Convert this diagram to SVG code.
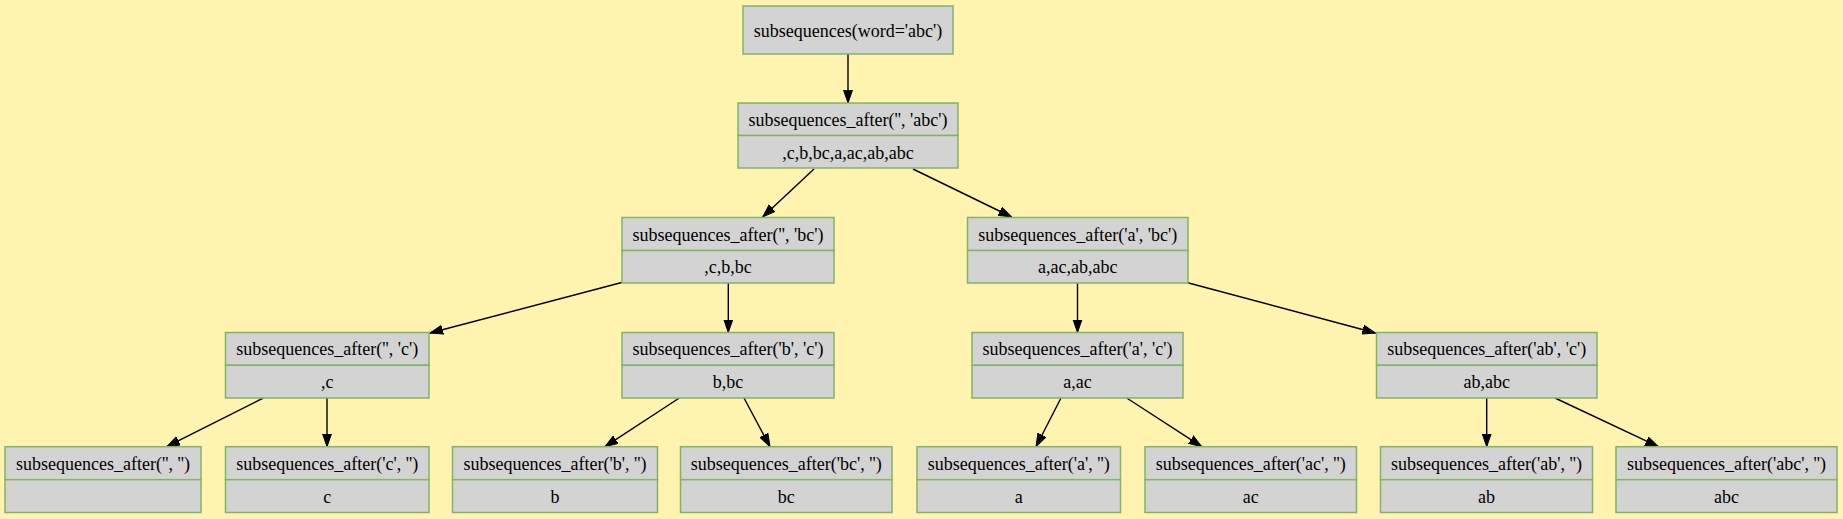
<svg xmlns="http://www.w3.org/2000/svg" width="1843" height="519" viewBox="0 0 1843 519" font-family="'Liberation Serif', 'Times New Roman', 'DejaVu Serif', serif">
<style>
.box{fill:#d3d3d3;stroke:#82b366;stroke-width:1.5}
.t{font-family:'Liberation Serif','Times New Roman','DejaVu Serif',serif;font-size:18px;fill:#000;text-anchor:middle}
.e{stroke:#000;stroke-width:1.4;fill:none;marker-end:url(#arr)}
</style>
<defs>
<marker id="arr" markerUnits="userSpaceOnUse" markerWidth="14" markerHeight="11" refX="13" refY="5" orient="auto">
<path d="M0,0.5 L13,5 L0,9.5 z" fill="#000" stroke="#000" stroke-width="1"/>
</marker>
</defs>
<rect width="1843" height="519" fill="#fff3b0"/>
<g id="connectors">
<line class="e" x1="848" y1="54" x2="848" y2="103"/>
<line class="e" x1="814" y1="169" x2="762.7" y2="217"/>
<line class="e" x1="913" y1="169" x2="1011.7" y2="217"/>
<line class="e" x1="621.7" y1="282.5" x2="430" y2="333"/>
<line class="e" x1="728.3" y1="283" x2="728.3" y2="332.5"/>
<line class="e" x1="1077.5" y1="283" x2="1077.5" y2="332.5"/>
<line class="e" x1="1187.7" y1="282.7" x2="1375.5" y2="333"/>
<line class="e" x1="263.3" y1="398" x2="166.7" y2="446.7"/>
<line class="e" x1="327" y1="398" x2="327" y2="446.7"/>
<line class="e" x1="679.3" y1="398" x2="605" y2="446.7"/>
<line class="e" x1="744" y1="398" x2="770" y2="446.7"/>
<line class="e" x1="1061" y1="398" x2="1036" y2="446.7"/>
<line class="e" x1="1126.7" y1="398" x2="1201.7" y2="446.7"/>
<line class="e" x1="1486.7" y1="398" x2="1486.7" y2="446.7"/>
<line class="e" x1="1555" y1="398" x2="1658.3" y2="446.7"/>
</g>
<g id="root">
<rect class="box" x="743" y="6" width="210" height="48"/>
<text class="t" x="848" y="36.5">subsequences(word='abc')</text>
</g>
<g id="n_abc">
<rect class="box" x="738" y="103" width="220" height="32.5"/>
<rect class="box" x="738" y="135.5" width="220" height="32.5"/>
<text class="t" x="848" y="126">subsequences_after('', 'abc')</text>
<text class="t" x="848" y="158.5">,c,b,bc,a,ac,ab,abc</text>
</g>
<g id="n_bc">
<rect class="box" x="622" y="217.5" width="212" height="33"/>
<rect class="box" x="622" y="250.5" width="212" height="32.5"/>
<text class="t" x="728" y="240.5">subsequences_after('', 'bc')</text>
<text class="t" x="728" y="273">,c,b,bc</text>
</g>
<g id="n_a_bc">
<rect class="box" x="967.5" y="217.5" width="220.5" height="33"/>
<rect class="box" x="967.5" y="250.5" width="220.5" height="32.5"/>
<text class="t" x="1077.75" y="240.5">subsequences_after('a', 'bc')</text>
<text class="t" x="1077.75" y="273">a,ac,ab,abc</text>
</g>
<g id="n_c">
<rect class="box" x="225.5" y="332.5" width="203.5" height="32.8"/>
<rect class="box" x="225.5" y="365.3" width="203.5" height="32.7"/>
<text class="t" x="327.25" y="355.4">subsequences_after('', 'c')</text>
<text class="t" x="327.25" y="388">,c</text>
</g>
<g id="n_b_c">
<rect class="box" x="622" y="332.5" width="212" height="32.8"/>
<rect class="box" x="622" y="365.3" width="212" height="32.7"/>
<text class="t" x="728" y="355.4">subsequences_after('b', 'c')</text>
<text class="t" x="728" y="388">b,bc</text>
</g>
<g id="n_a_c">
<rect class="box" x="972" y="332.5" width="211" height="32.8"/>
<rect class="box" x="972" y="365.3" width="211" height="32.7"/>
<text class="t" x="1077.5" y="355.4">subsequences_after('a', 'c')</text>
<text class="t" x="1077.5" y="388">a,ac</text>
</g>
<g id="n_ab_c">
<rect class="box" x="1376.5" y="332.5" width="220.5" height="32.8"/>
<rect class="box" x="1376.5" y="365.3" width="220.5" height="32.7"/>
<text class="t" x="1486.75" y="355.4">subsequences_after('ab', 'c')</text>
<text class="t" x="1486.75" y="388">ab,abc</text>
</g>
<g id="l_empty">
<rect class="box" x="5" y="446.7" width="196" height="33"/>
<rect class="box" x="5" y="479.7" width="196" height="32.8"/>
<text class="t" x="103" y="469.7">subsequences_after('', '')</text>
</g>
<g id="l_c">
<rect class="box" x="225.5" y="446.7" width="203.5" height="33"/>
<rect class="box" x="225.5" y="479.7" width="203.5" height="32.8"/>
<text class="t" x="327.25" y="469.7">subsequences_after('c', '')</text>
<text class="t" x="327.25" y="502.5">c</text>
</g>
<g id="l_b">
<rect class="box" x="452.5" y="446.7" width="205" height="33"/>
<rect class="box" x="452.5" y="479.7" width="205" height="32.8"/>
<text class="t" x="555" y="469.7">subsequences_after('b', '')</text>
<text class="t" x="555" y="502.5">b</text>
</g>
<g id="l_bc">
<rect class="box" x="680.5" y="446.7" width="211.5" height="33"/>
<rect class="box" x="680.5" y="479.7" width="211.5" height="32.8"/>
<text class="t" x="786.25" y="469.7">subsequences_after('bc', '')</text>
<text class="t" x="786.25" y="502.5">bc</text>
</g>
<g id="l_a">
<rect class="box" x="917" y="446.7" width="203.5" height="33"/>
<rect class="box" x="917" y="479.7" width="203.5" height="32.8"/>
<text class="t" x="1018.75" y="469.7">subsequences_after('a', '')</text>
<text class="t" x="1018.75" y="502.5">a</text>
</g>
<g id="l_ac">
<rect class="box" x="1145" y="446.7" width="211.5" height="33"/>
<rect class="box" x="1145" y="479.7" width="211.5" height="32.8"/>
<text class="t" x="1250.75" y="469.7">subsequences_after('ac', '')</text>
<text class="t" x="1250.75" y="502.5">ac</text>
</g>
<g id="l_ab">
<rect class="box" x="1380.5" y="446.7" width="212" height="33"/>
<rect class="box" x="1380.5" y="479.7" width="212" height="32.8"/>
<text class="t" x="1486.5" y="469.7">subsequences_after('ab', '')</text>
<text class="t" x="1486.5" y="502.5">ab</text>
</g>
<g id="l_abc">
<rect class="box" x="1616" y="446.7" width="221" height="33"/>
<rect class="box" x="1616" y="479.7" width="221" height="32.8"/>
<text class="t" x="1726.5" y="469.7">subsequences_after('abc', '')</text>
<text class="t" x="1726.5" y="502.5">abc</text>
</g>
</svg>
